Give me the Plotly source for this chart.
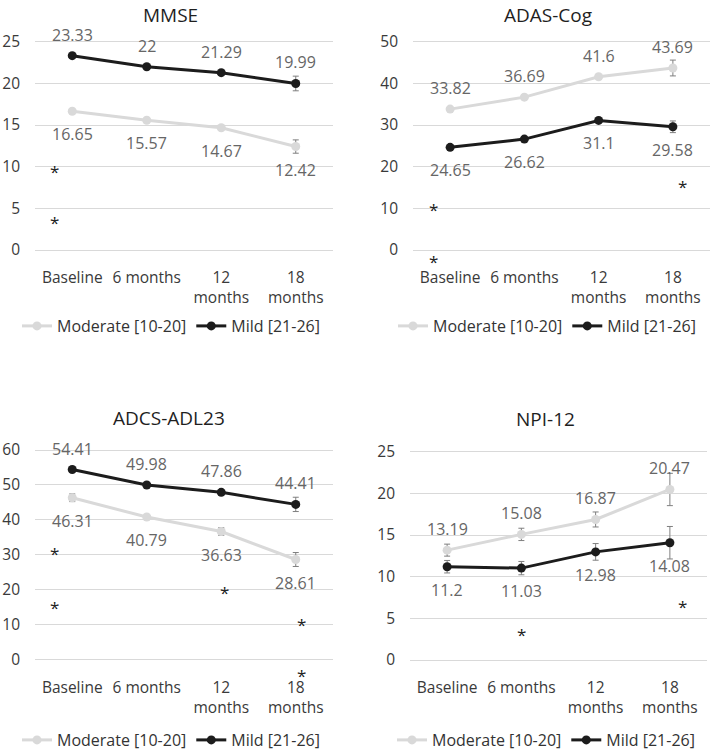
import plotly.graph_objects as go

W, H = 711, 752
FONT = "Open Sans"

categories = ["Baseline", "6 months", "12<br>months", "18<br>months"]
series_names = ["Moderate [10-20]", "Mild [21-26]"]

# MMSE
mmse_moderate = [16.65, 15.57, 14.67, 12.42]
mmse_mild = [23.33, 22, 21.29, 19.99]
mmse_moderate_err = [0, 0, 0, 0.8]
mmse_mild_err = [0, 0, 0, 0.88]
# significance asterisks: (category index, offset, value)
mmse_stars = [(0, -0.24, 9.6), (0, -0.24, 3.4)]

# ADAS-Cog
adas_moderate = [33.82, 36.69, 41.6, 43.69]
adas_mild = [24.65, 26.62, 31.1, 29.58]
adas_moderate_err = [0, 0, 0, 1.9]
adas_mild_err = [0, 0, 0, 1.4]
adas_stars = [(0, -0.23, 10.0), (0, -0.23, -2.4), (3, 0.13, 15.6)]

# ADCS-ADL23
adcs_moderate = [46.31, 40.79, 36.63, 28.61]
adcs_mild = [54.41, 49.98, 47.86, 44.41]
adcs_moderate_err = [1.1, 0, 1.1, 2.0]
adcs_mild_err = [0, 0, 0, 2.05]
adcs_stars = [(0, -0.24, 30.5), (0, -0.24, 15.1), (2, 0.045, 19.4), (3, 0.08, 10.3), (3, 0.08, -4.5)]

# NPI-12
npi_moderate = [13.19, 15.08, 16.87, 20.47]
npi_mild = [11.2, 11.03, 12.98, 14.08]
npi_moderate_err = [0.72, 0.74, 0.9, 1.94]
npi_mild_err = [0.75, 0.8, 1.0, 1.95]
npi_stars = [(1, 0.0, 3.2), (3, 0.17, 6.6)]

MOD_COLOR = "#d9d9d9"
MILD_COLOR = "#1c1c1c"
ERR_COLOR = "#7f7f7f"
LABEL_COLOR = "#666666"
TICK_COLOR = "#3a3a3a"

panels = [
    dict(title="MMSE", mod=mmse_moderate, mild=mmse_mild, mod_err=mmse_moderate_err,
         mild_err=mmse_mild_err, stars=mmse_stars, ticks=[0, 5, 10, 15, 20, 25],
         xdom=(35, 333), ydom=(30, 266), yrange=(-1.92, 26.41), mild_above=True,
         title_pos=(170, 0), legend_pos=(171, 326)),
    dict(title="ADAS-Cog", mod=adas_moderate, mild=adas_mild, mod_err=adas_moderate_err,
         mild_err=adas_mild_err, stars=adas_stars, ticks=[0, 10, 20, 30, 40, 50],
         xdom=(413, 710), ydom=(30, 266), yrange=(-3.84, 52.81), mild_above=False,
         title_pos=(548, 0), legend_pos=(547, 326)),
    dict(title="ADCS-ADL23", mod=adcs_moderate, mild=adcs_mild, mod_err=adcs_moderate_err,
         mild_err=adcs_mild_err, stars=adcs_stars, ticks=[0, 10, 20, 30, 40, 50, 60],
         xdom=(35, 333), ydom=(440, 676), yrange=(-4.79, 62.87), mild_above=True,
         title_pos=(169, 403), legend_pos=(171, 740)),
    dict(title="NPI-12", mod=npi_moderate, mild=npi_mild, mod_err=npi_moderate_err,
         mild_err=npi_mild_err, stars=npi_stars, ticks=[0, 5, 10, 15, 20, 25],
         xdom=(410, 707), ydom=(440, 676), yrange=(-1.92, 26.41), mild_above=False,
         title_pos=(545, 404), legend_pos=(546, 740)),
]

fig = go.Figure()
annotations = []
xpos = list(range(len(categories)))

for i, p in enumerate(panels):
    n = "" if i == 0 else str(i + 1)
    xa, ya = "x" + n, "y" + n
    leg = "legend" + n
    for name, vals, errs, color in [
        (series_names[0], p["mod"], p["mod_err"], MOD_COLOR),
        (series_names[1], p["mild"], p["mild_err"], MILD_COLOR),
    ]:
        fig.add_trace(go.Scatter(
            x=xpos, y=vals, name=name, mode="lines+markers",
            line=dict(color=color, width=3),
            marker=dict(color=color, size=9),
            error_y=dict(type="data", array=errs, visible=True, color=ERR_COLOR,
                         thickness=1, width=3),
            xaxis=xa, yaxis=ya, legend=leg, cliponaxis=False,
        ))
    # data labels
    for series, above in [(p["mod"], not p["mild_above"]), (p["mild"], p["mild_above"])]:
        for xi, v in zip(xpos, series):
            annotations.append(dict(
                x=xi, y=v, xref=xa, yref=ya, text=f"{v:g}", showarrow=False,
                yshift=21 if above else -23,
                font=dict(family=FONT, size=16, color=LABEL_COLOR)))
    # significance markers
    for ci, dx, yv in p["stars"]:
        annotations.append(dict(
            x=ci + dx, y=yv, xref=xa, yref=ya, text="*", showarrow=False,
            yshift=-1, font=dict(family=FONT, size=17, color="#222222")))
    # titles (top of text box)
    tx, ty = p["title_pos"]
    annotations.append(dict(
        x=tx / W, y=1 - ty / H, xref="paper", yref="paper", text=p["title"],
        showarrow=False, xanchor="center", yanchor="top",
        font=dict(family=FONT, size=19, color="#1f1f1f")))

    x0, x1 = p["xdom"]
    y0, y1 = p["ydom"]
    fig.layout["xaxis" + n] = dict(
        domain=[x0 / W, x1 / W], anchor=ya, range=[-0.5, 3.5],
        tickvals=xpos, ticktext=categories, showgrid=False, zeroline=False,
        showline=False, ticks="", tickfont=dict(family=FONT, size=15.5, color=TICK_COLOR),
        ticklabelstandoff=0, fixedrange=True)
    fig.layout["yaxis" + n] = dict(
        domain=[1 - y1 / H, 1 - y0 / H], anchor=xa, range=list(p["yrange"]),
        tickvals=p["ticks"], showgrid=True, gridcolor="#d9d9d9", gridwidth=1,
        zeroline=False, showline=False, ticks="",
        tickfont=dict(family=FONT, size=15.5, color=TICK_COLOR),
        ticklabelstandoff=14, fixedrange=True)
    lx, ly = p["legend_pos"]
    fig.layout[leg] = dict(
        orientation="h", x=lx / W, y=1 - ly / H, xanchor="center", yanchor="middle",
        font=dict(family=FONT, size=16, color="#333333"), bgcolor="rgba(0,0,0,0)",
        itemwidth=30, tracegroupgap=0)

fig.update_layout(
    width=W, height=H, margin=dict(l=0, r=0, t=0, b=0, autoexpand=False),
    paper_bgcolor="white", plot_bgcolor="white",
    annotations=annotations, showlegend=True,
    font=dict(family=FONT),
)

fig.write_html("out.html", config={"displayModeBar": False},
               post_script="document.body.style.margin='0';")
